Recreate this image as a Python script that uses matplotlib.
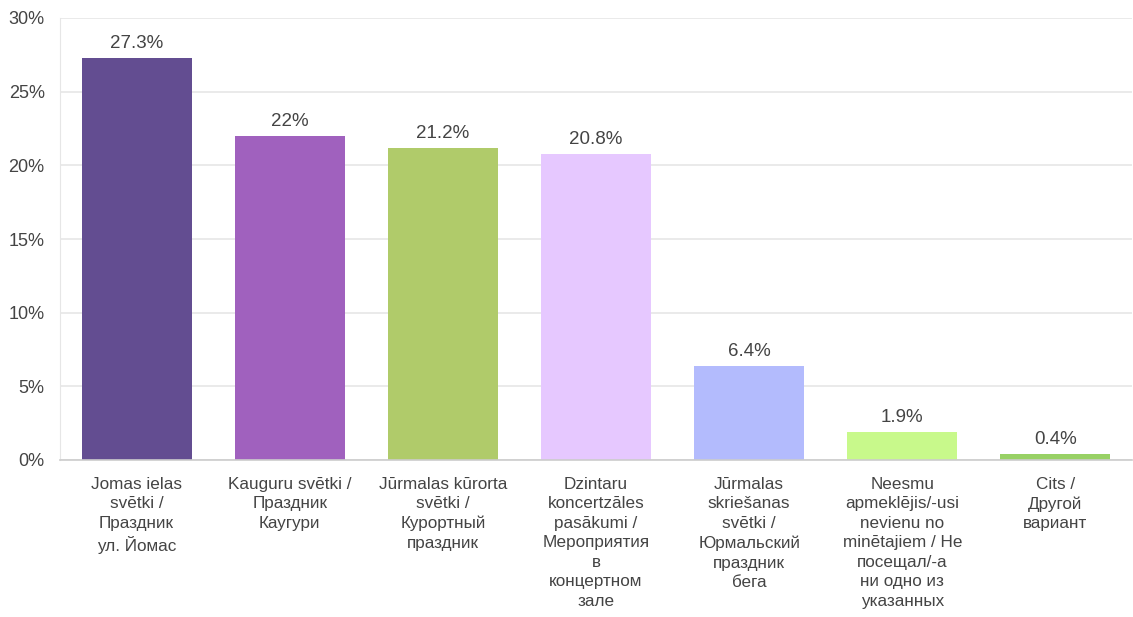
import matplotlib.pyplot as plt
from matplotlib.ticker import FuncFormatter

labels = [
    "Jomas ielas\nsvētki /\nПраздник\nул. Йомас",
    "Kauguru svētki /\nПраздник\nКаугури",
    "Jūrmalas kūrorta\nsvētki /\nКурортный\nпраздник",
    "Dzintaru\nkoncertzāles\npasākumi /\nМероприятия\nв\nконцертном\nзале",
    "Jūrmalas\nskriešanas\nsvētki /\nЮрмальский\nпраздник\nбега",
    "Neesmu\napmeklējis/-usi\nnevienu no\nminētajiem / Не\nпосещал/-а\nни одно из\nуказанных",
    "Cits /\nДругой\nвариант",
]
values = [27.3, 22, 21.2, 20.8, 6.4, 1.9, 0.4]
value_text = ["27.3%", "22%", "21.2%", "20.8%", "6.4%", "1.9%", "0.4%"]
colors = ["#634d91", "#a061be", "#b0cb6a", "#e6c8ff", "#b3bbfd", "#c8f98b", "#98d165"]
yticks = [0, 5, 10, 15, 20, 25, 30]

plt.rcParams['font.family'] = ['Liberation Sans', 'DejaVu Sans']
text_col = "#444444"

fig = plt.figure(figsize=(11.33, 6.17), dpi=100)
ax = fig.add_axes([60 / 1133, 157 / 617, 1072 / 1133, 442 / 617])

x = list(range(len(values)))
ax.bar(x, values, width=110 / 153, color=colors, zorder=2)
for xi, v, t in zip(x, values, value_text):
    ax.text(xi, v + 0.4, t, ha='center', va='bottom', fontsize=13.5, color=text_col)

ax.set_xlim(-0.5, 6.5)
ax.set_ylim(0, 30)
ax.set_yticks(yticks)
ax.yaxis.set_major_formatter(FuncFormatter(lambda v, p: f"{v:.0f}%"))
ax.set_xticks(x)
ax.set_xticklabels(labels, fontsize=12.3, color=text_col, linespacing=1.38)
ax.tick_params(axis='x', length=0, pad=12)
ax.tick_params(axis='y', length=0, pad=11, labelsize=13, labelcolor=text_col)

ax.grid(axis='y', color="#e6e6e6", linewidth=1.2, zorder=0)
for s in ['top', 'right']:
    ax.spines[s].set_visible(False)
ax.spines['left'].set_color("#e6e6e6")
ax.spines['bottom'].set_color("#cccccc")
ax.spines['bottom'].set_linewidth(1.2)
ax.spines['bottom'].set_zorder(3)

fig.savefig("out.png", dpi=100)
